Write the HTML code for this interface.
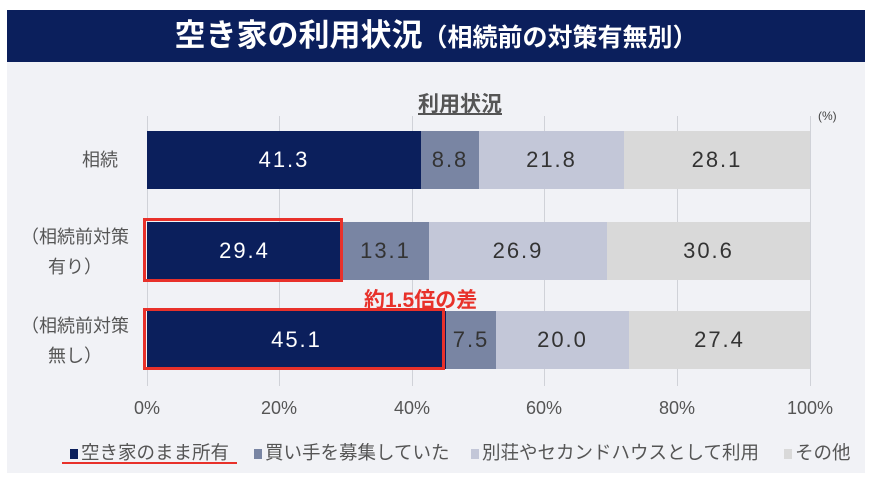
<!DOCTYPE html>
<html><head><meta charset="utf-8"><style>
body{margin:0;width:882px;height:488px;background:#fff;position:relative;overflow:hidden;font-family:"Liberation Sans","Noto Sans CJK JP",sans-serif}
.a{position:absolute}
.hdr{left:7px;top:10px;width:858px;height:52px;background:#0b1f5c;color:#fff;text-align:center;line-height:52px;font-size:31px;font-weight:bold}
.hdr small{font-size:25px}
.pan{left:7px;top:62px;width:858px;height:411px;background:#f1f2f6}
.g{width:1px;top:116px;height:270px;background:#d0d2d8}
.s{height:58px;color:#333;font-size:22px;text-align:center;line-height:58px;letter-spacing:2px}
.t{font-size:18px;color:#555;top:398px;width:60px;text-align:center}
.c{font-size:18px;color:#555;text-align:center;line-height:30px}
.lg{top:439px;font-size:18.5px;color:#555;white-space:nowrap}
.sq{display:inline-block;width:8px;height:10px;margin-right:3px}
</style></head><body>
<div class="a hdr">空き家の利用状況<small>（相続前の対策有無別）</small></div>
<div class="a pan"></div>
<div class="a" style="left:418px;top:88px;font-size:21px;color:#555;font-weight:bold;text-decoration:underline">利用状況</div>
<div class="a" style="left:818px;top:109px;font-size:12px;color:#444">(%)</div>
<div class="a g" style="left:147px"></div><div class="a g" style="left:279px"></div><div class="a g" style="left:412px"></div><div class="a g" style="left:544px"></div><div class="a g" style="left:677px"></div><div class="a g" style="left:810px"></div>

<div class="a s" style="left:147px;top:131px;width:274px;background:#0b1f5c;color:#fff">41.3</div>
<div class="a s" style="left:421px;top:131px;width:58px;background:#7985a3">8.8</div>
<div class="a s" style="left:479px;top:131px;width:145px;background:#c3c7d8">21.8</div>
<div class="a s" style="left:624px;top:131px;width:186px;background:#d9d9d9">28.1</div>

<div class="a s" style="left:147px;top:222px;width:195px;background:#0b1f5c;color:#fff">29.4</div>
<div class="a s" style="left:342px;top:222px;width:87px;background:#7985a3">13.1</div>
<div class="a s" style="left:429px;top:222px;width:178px;background:#c3c7d8">26.9</div>
<div class="a s" style="left:607px;top:222px;width:203px;background:#d9d9d9">30.6</div>

<div class="a s" style="left:147px;top:311px;width:299px;background:#0b1f5c;color:#fff">45.1</div>
<div class="a s" style="left:446px;top:311px;width:50px;background:#7985a3">7.5</div>
<div class="a s" style="left:496px;top:311px;width:133px;background:#c3c7d8">20.0</div>
<div class="a s" style="left:629px;top:311px;width:181px;background:#d9d9d9">27.4</div>

<div class="a" style="left:143px;top:218px;width:194px;height:58px;border:3px solid #e8312a"></div>
<div class="a" style="left:143px;top:308px;width:296px;height:56px;border:3px solid #e8312a"></div>
<div class="a" style="left:364px;top:284px;font-size:21px;font-weight:bold;color:#e8312a">約1.5倍の差</div>

<div class="a c" style="left:60px;top:145px;width:80px;font-size:18px">相続</div>
<div class="a c" style="left:5px;top:222px;width:140px;font-size:18px">（相続前対策<br>有り）</div>
<div class="a c" style="left:5px;top:311px;width:140px;font-size:18px">（相続前対策<br>無し）</div>

<div class="a t" style="left:117px">0%</div><div class="a t" style="left:249px">20%</div><div class="a t" style="left:382px">40%</div><div class="a t" style="left:514px">60%</div><div class="a t" style="left:647px">80%</div><div class="a t" style="left:780px">100%</div>

<div class="a lg" style="left:70px"><span class="sq" style="background:#0b1f5c"></span>空き家のまま所有</div>
<div class="a" style="left:62px;top:462px;width:175px;height:2px;background:#e8312a"></div>
<div class="a lg" style="left:254px"><span class="sq" style="background:#7985a3"></span>買い手を募集していた</div>
<div class="a lg" style="left:471px"><span class="sq" style="background:#c3c7d8"></span>別荘やセカンドハウスとして利用</div>
<div class="a lg" style="left:784px"><span class="sq" style="background:#d9d9d9"></span>その他</div>
</body></html>
